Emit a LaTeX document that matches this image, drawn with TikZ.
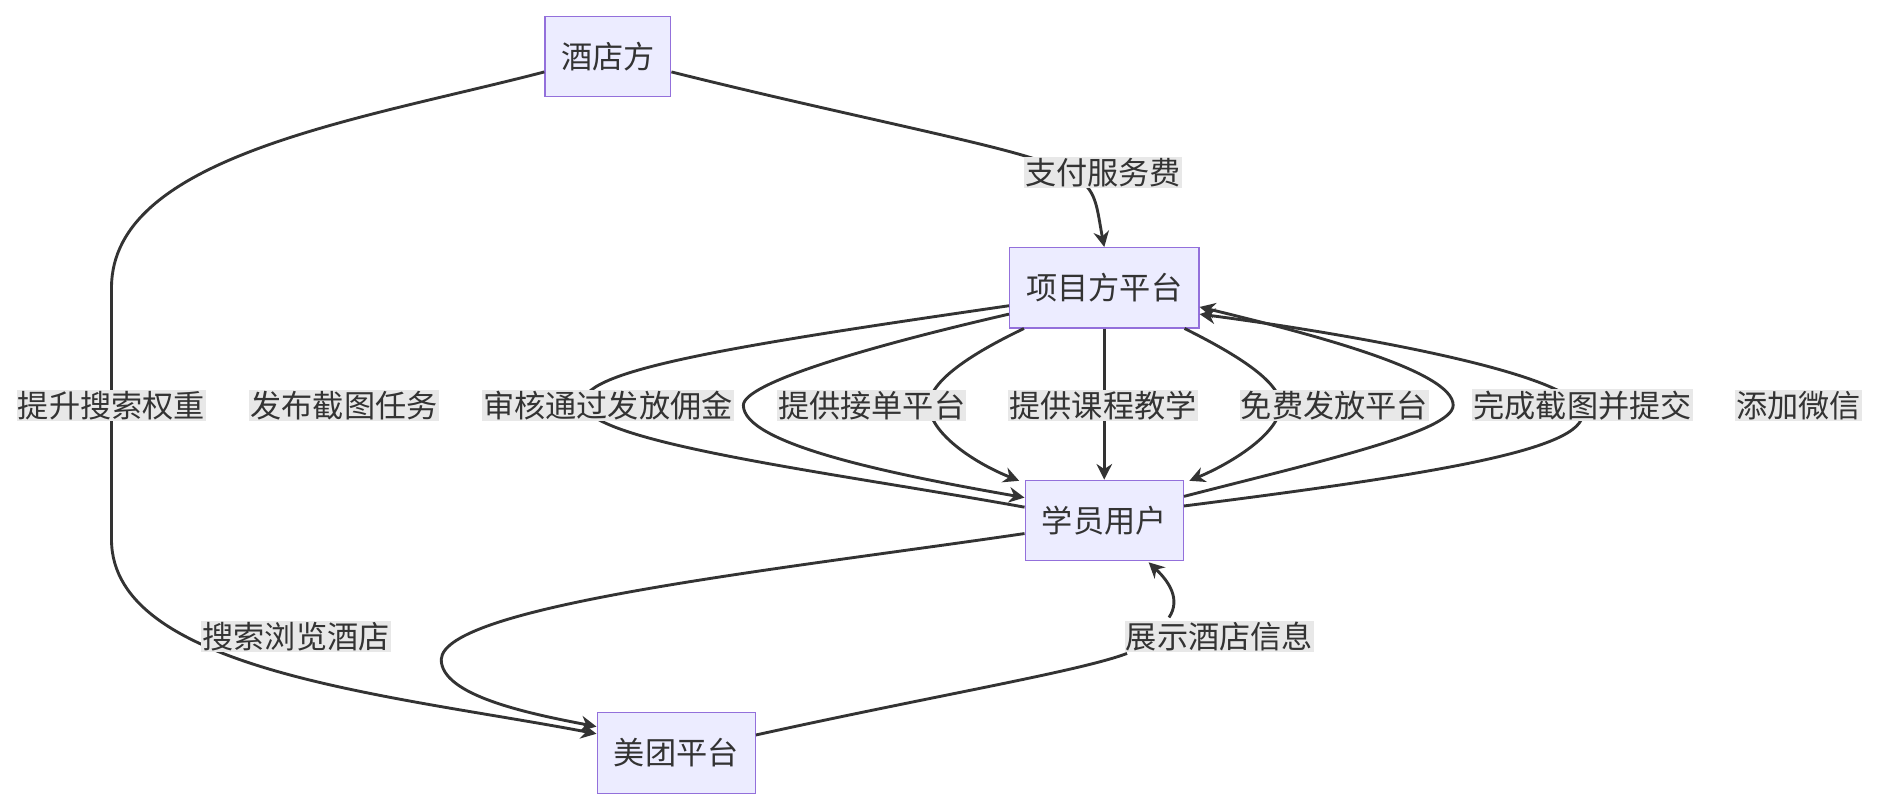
\documentclass[tikz,border=0pt]{standalone}
\usepackage{fontspec}
\setmainfont{Noto Sans CJK SC}
\usetikzlibrary{arrows.meta}
\definecolor{nfill}{HTML}{ECECFF}
\definecolor{nline}{HTML}{9370DB}
\definecolor{eline}{HTML}{333333}
\definecolor{lbg}{HTML}{E8E8E8}
\begin{document}
\begin{tikzpicture}[x=1pt,y=-1pt,
  box/.style={draw=nline,fill=nfill,line width=1pt,minimum height=67pt,inner xsep=12pt,font=\fontsize{26}{29}\selectfont,text=eline},
  lab/.style={fill=lbg,inner xsep=1pt,inner ysep=1pt,font=\fontsize{26}{29}\selectfont,text=eline},
  e/.style={draw=eline,line width=2.4pt},
  a/.style={e,-{Stealth[length=13pt,width=13pt]}}]
\useasboundingbox (0,0) rectangle (1568,677);
\node[box,minimum width=105pt] (h) at (507,47) {酒店方};
\node[box,minimum width=158pt] (p) at (921,240) {项目方平台};
\node[box,minimum width=132pt] (s) at (921,434) {学员用户};
\node[box,minimum width=132pt] (m) at (564,628) {美团平台};
\coordinate (l1) at (870,135);
\draw[e] (h.east|-0,60) .. controls (700,95) and (830,120) .. (l1);
\draw[a] (900,150) .. controls (915,160) and (915,175) .. (p.north);
\draw[a] (h.west|-0,60) .. controls (300,100) and (93,130) .. (93,240) -- (93,450) .. controls (93,560) and (330,580) .. (m.west|-0,612);
\draw[e] (p.west|-0,255) .. controls (600,290) and (480,310) .. (487,338) .. controls (495,370) and (700,395) .. (s.west|-0,423);
\draw[a] (p.west|-0,262) .. controls (720,290) and (620,320) .. (620,338) .. controls (620,370) and (740,395) .. (s.west|-0,415);
\draw[a] (854,274) .. controls (810,295) and (775,318) .. (775,338) .. controls (775,360) and (810,385) .. (850,401);
\draw[a] (p.south) -- (s.north);
\draw[a] (988,274) .. controls (1030,295) and (1068,318) .. (1068,338) .. controls (1068,360) and (1030,385) .. (992,401);
\draw[a] (s.east|-0,414) .. controls (1100,385) and (1212,360) .. (1212,338) .. controls (1212,310) and (1100,280) .. (p.east|-0,256);
\draw[a] (s.east|-0,422) .. controls (1200,395) and (1320,375) .. (1320,345) .. controls (1320,310) and (1100,275) .. (p.east|-0,262);
\draw[a] (s.west|-0,445) .. controls (650,475) and (370,505) .. (368,550) .. controls (368,580) and (440,595) .. (m.west|-0,606);
\draw[e] (m.east|-0,613) .. controls (780,580) and (900,560) .. (940,545);
\draw[a] (975,515) .. controls (985,500) and (975,485) .. (958,469);
\node[lab] at (920,144) {支付服务费};
\node[lab] at (93,338) {提升搜索权重};
\node[lab] at (287,338) {发布截图任务};
\node[lab] at (507,338) {审核通过发放佣金};
\node[lab] at (727,338) {提供接单平台};
\node[lab] at (920,338) {提供课程教学};
\node[lab] at (1113,338) {免费发放平台};
\node[lab] at (1320,338) {完成截图并提交};
\node[lab] at (1500,338) {添加微信};
\node[lab] at (247,531) {搜索浏览酒店};
\node[lab] at (1017,531) {展示酒店信息};
\end{tikzpicture}
\end{document}
